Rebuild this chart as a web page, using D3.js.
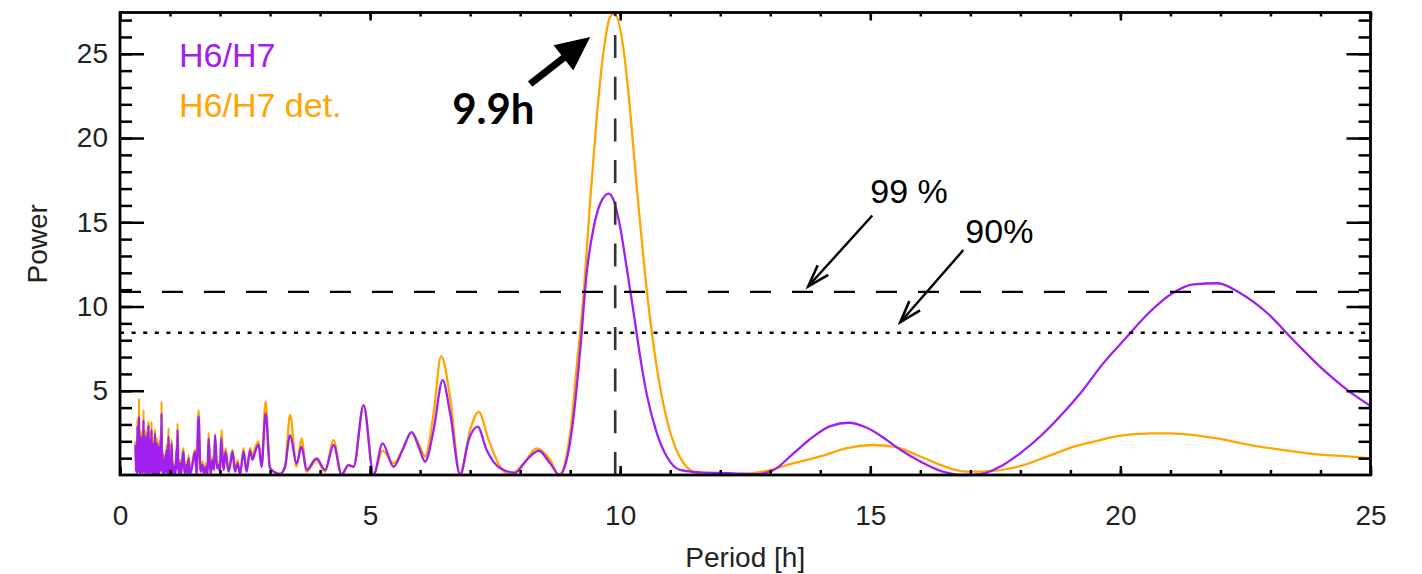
<!DOCTYPE html>
<html>
<head>
<meta charset="utf-8">
<script src="https://cdn.jsdelivr.net/npm/d3@7"></script>
<style>
  body { margin:0; background:#fff; }
  svg { display:block; }
</style>
</head>
<body>
<svg id="chart" width="1422" height="574"></svg>
<script>
// Periodogram values: [period (h), power]
const h6h7 = [
  [0.31,1.8],[0.32,0.2],[0.33,1.4],[0.34,0.1],[0.35,2.9],[0.36,0.3],[0.37,1.9],[0.375,0.2],[0.38,3.46],
  [0.39,0.1],[0.40,1.6],[0.41,0.1],[0.42,2.27],[0.43,0.2],[0.44,1.5],[0.455,0.1],[0.47,3.26],[0.48,0.2],
  [0.49,1.7],[0.50,0.1],[0.51,2.27],[0.52,0.2],[0.53,1.4],[0.54,0.05],[0.55,2.5],[0.56,0.3],[0.57,2.96],
  [0.58,0.1],[0.59,1.6],[0.60,0.1],[0.61,2.1],[0.62,0.2],[0.63,2.67],[0.64,0.1],[0.65,1.5],[0.66,0.1],
  [0.67,1.88],[0.68,0.05],[0.69,1.2],[0.695,0.1],[0.70,2.47],[0.71,0.1],[0.72,1.3],[0.73,0.1],
  [0.74,1.9],[0.75,0.05],[0.76,1.1],[0.765,0.1],[0.77,1.68],[0.78,0.1],[0.79,1.3],[0.80,0.2],
  [0.81,2.1],[0.82,0.3],[0.83,3.66],[0.84,0.2],[0.85,1.3],[0.86,0.1],[0.87,0.89],[0.89,0.05],
  [0.91,1.2],[0.92,0.2],[0.93,1.48],[0.95,0.05],[0.97,2.27],[0.98,0.1],[0.99,1.0],[1.00,0.1],
  [1.01,0.9],[1.02,0.05],[1.03,1.88],[1.05,0.1],[1.06,0.6],[1.08,0.1],[1.09,0.5],[1.11,0.05],
  [1.13,1.5],[1.14,0.4],[1.15,2.67],[1.17,0.1],[1.20,0.7],[1.22,0.05],[1.25,1.0],[1.27,1.38],
  [1.29,0.1],[1.33,0.6],[1.35,0.05],[1.37,0.99],[1.40,0.1],[1.42,0.2],[1.46,0.8],[1.50,1.38],
  [1.53,0.05],[1.57,3.46],[1.61,0.2],[1.65,0.6],[1.68,0.05],[1.72,0.5],[1.75,0.05],[1.77,2.17],
  [1.81,0.05],[1.85,0.9],[1.88,0.3],[1.90,2.37],[1.94,0.4],[1.97,0.6],[2.00,0.2],[2.02,2.17],
  [2.07,0.3],[2.11,1.38],[2.17,0.2],[2.21,0.7],[2.25,1.38],[2.30,0.2],[2.35,0.69],[2.40,0.05],
  [2.47,1.38],[2.53,0.2],[2.60,1.45],[2.65,0.9],[2.70,1.35],[2.77,1.8],[2.83,0.49],[2.91,3.66],
  [3.00,0.4],[3.20,0.06],[3.30,0.5],[3.40,2.37],[3.53,0.69],[3.63,1.68],[3.73,0.3],
  [3.93,0.99],[4.10,0.3],[4.27,1.78],[4.43,0.02],[4.57,0.59],[4.67,0.49],[4.87,4.15],[5.07,0.02],
  [5.25,1.88],[5.47,0.49],[5.65,1.5],[5.83,2.55],[5.98,1.6],[6.10,0.8],[6.27,2.67],[6.45,5.63],
  [6.60,3.66],[6.80,0.02],[6.97,2.07],[7.15,2.87],[7.33,1.48],[7.60,0.4],[7.90,0.14],[8.13,0.89],
  [8.37,1.44],[8.60,0.69],[8.79,0.0],[8.93,0.9],[9.07,3.5],[9.20,7.4],[9.33,12.0],[9.47,14.7],
  [9.60,16.1],[9.77,16.7],[9.87,16.3],[10.00,14.7],[10.13,12.3],[10.27,9.6],[10.40,7.0],[10.53,4.8],
  [10.73,2.5],[10.93,1.1],[11.20,0.3],[11.60,0.15],[12.27,0.1],[12.73,0.05],[13.07,0.3],[13.47,1.3],
  [13.87,2.3],[14.20,2.9],[14.57,3.1],[14.93,2.8],[15.27,2.2],[15.60,1.5],[16.00,0.8],[16.40,0.25],
  [16.87,0.0],[17.20,0.05],[17.60,0.5],[18.00,1.3],[18.40,2.3],[18.80,3.5],[19.20,4.85],[19.66,6.64],
  [20.10,8.1],[20.56,9.6],[21.04,10.79],[21.46,11.32],[21.94,11.38],[22.40,10.79],[22.94,9.6],
  [23.46,8.0],[24.00,6.4],[24.54,5.04],[25.00,4.1]
];

const h6h7det = [
  [0.31,2.0],[0.32,0.2],[0.33,1.6],[0.34,0.1],[0.35,3.3],[0.36,0.3],[0.37,2.2],[0.375,0.2],[0.38,4.55],
  [0.39,0.1],[0.40,1.9],[0.41,0.1],[0.42,2.6],[0.43,0.2],[0.44,1.8],[0.455,0.1],[0.47,3.85],[0.48,0.2],
  [0.49,2.0],[0.50,0.1],[0.51,2.6],[0.52,0.2],[0.53,1.7],[0.54,0.05],[0.55,2.8],[0.56,0.3],[0.57,3.2],
  [0.58,0.1],[0.59,1.9],[0.60,0.1],[0.61,2.5],[0.62,0.2],[0.63,3.16],[0.64,0.1],[0.65,1.8],[0.66,0.1],
  [0.67,2.2],[0.68,0.05],[0.69,1.4],[0.695,0.1],[0.70,2.7],[0.71,0.1],[0.72,1.5],[0.73,0.1],
  [0.74,2.2],[0.75,0.05],[0.76,1.3],[0.765,0.1],[0.77,1.9],[0.78,0.1],[0.79,1.5],[0.80,0.2],
  [0.81,2.4],[0.82,0.3],[0.83,4.35],[0.84,0.2],[0.85,1.5],[0.86,0.1],[0.87,1.1],[0.89,0.05],
  [0.91,1.4],[0.92,0.2],[0.93,1.8],[0.95,0.05],[0.97,2.77],[0.98,0.1],[0.99,1.2],[1.00,0.1],
  [1.01,1.1],[1.02,0.05],[1.03,2.1],[1.05,0.1],[1.06,0.8],[1.08,0.1],[1.09,0.7],[1.11,0.05],
  [1.13,1.8],[1.14,0.5],[1.15,3.06],[1.17,0.1],[1.20,0.9],[1.22,0.05],[1.25,1.3],[1.27,1.6],
  [1.29,0.1],[1.33,0.8],[1.35,0.05],[1.37,1.2],[1.40,0.1],[1.42,0.3],[1.46,1.0],[1.50,1.5],
  [1.53,0.05],[1.57,3.85],[1.61,0.2],[1.65,0.8],[1.68,0.05],[1.72,0.7],[1.75,0.05],[1.77,2.5],
  [1.81,0.05],[1.85,1.1],[1.88,0.3],[1.90,2.4],[1.94,0.4],[1.97,0.8],[2.00,0.2],[2.03,2.67],
  [2.07,0.3],[2.11,1.6],[2.17,0.2],[2.21,0.9],[2.25,1.5],[2.30,0.2],[2.35,0.9],[2.40,0.05],
  [2.47,1.6],[2.53,0.2],[2.60,1.6],[2.65,1.1],[2.70,1.6],[2.77,2.0],[2.83,0.5],[2.91,4.35],
  [3.00,0.4],[3.20,0.06],[3.30,0.5],[3.40,3.56],[3.53,0.5],[3.63,2.17],[3.73,0.2],
  [3.93,0.89],[4.10,0.2],[4.27,2.07],[4.43,0.02],[4.57,0.59],[4.67,0.49],[4.87,4.15],[5.07,0.02],
  [5.25,1.45],[5.47,0.69],[5.65,1.5],[5.83,2.55],[5.98,1.8],[6.10,1.1],[6.27,3.66],[6.42,7.05],
  [6.60,4.6],[6.80,0.02],[7.00,2.67],[7.17,3.75],[7.37,2.07],[7.60,0.5],[7.80,0.0],[8.07,0.69],
  [8.33,1.58],[8.60,0.89],[8.77,0.0],[9.00,2.5],[9.13,6.4],[9.27,10.8],[9.40,16.3],[9.53,21.2],
  [9.67,25.2],[9.80,27.2],[9.88,27.4],[10.07,25.2],[10.20,21.6],[10.33,17.1],[10.47,12.7],[10.60,9.2],
  [10.73,6.4],[10.90,3.7],[11.07,1.9],[11.27,0.7],[11.60,0.05],[12.27,0.04],[12.93,0.25],[13.47,0.7],
  [14.00,1.1],[14.53,1.6],[15.07,1.78],[15.47,1.68],[15.93,1.19],[16.40,0.6],[16.93,0.2],[17.47,0.25],
  [18.00,0.53],[18.53,1.09],[19.07,1.68],[19.60,2.07],[19.93,2.31],[20.60,2.47],[21.00,2.47],
  [21.47,2.37],[21.93,2.17],[22.60,1.78],[23.27,1.48],[23.93,1.23],[24.60,1.09],[25.00,0.99]
];

const xTicks = [0, 5, 10, 15, 20, 25];
const yTicks = [5, 10, 15, 20, 25];
const peakPeriod = 9.9;
const level99 = 10.87;
const level90 = 8.44;

// annotations, in data units: [from, to]
const bigArrow = [[8.2, 23.2], [9.4, 26.0]];
const arrow99 = [[15.04, 15.4], [13.76, 11.2]];
const arrow90 = [[16.86, 13.35], [15.6, 9.07]];

const purple = "#a020f0";
const orange = "#ffa500";
const font = '"Liberation Sans", Arial, Helvetica, sans-serif';

const svg = d3.select("#chart");
const mLeft = 120, mRight = 1370.5, mTop = 12.5, mBottom = 475;

const x = d3.scaleLinear().domain([0, 25]).range([mLeft, mRight]);
const y = d3.scaleLinear().domain([0, 27.45]).range([mBottom, mTop]);

const line = d3.line()
  .x(d => x(d[0]))
  .y(d => y(d[1]))
  .curve(d3.curveMonotoneX);

svg.append("path")
  .attr("d", line(h6h7det))
  .attr("fill", "none")
  .attr("stroke", orange)
  .attr("stroke-width", 2.3);

svg.append("path")
  .attr("d", line(h6h7))
  .attr("fill", "none")
  .attr("stroke", purple)
  .attr("stroke-width", 2.3);

// confidence levels
svg.append("line")
  .attr("x1", x(0)).attr("x2", x(25))
  .attr("y1", y(level99)).attr("y2", y(level99))
  .attr("stroke", "#000").attr("stroke-width", 2.4)
  .attr("stroke-dasharray", "21,21");

svg.append("line")
  .attr("x1", x(0)).attr("x2", x(25))
  .attr("y1", y(level90)).attr("y2", y(level90))
  .attr("stroke", "#000").attr("stroke-width", 2.4)
  .attr("stroke-dasharray", "4,7.6");

// peak marker
svg.append("line")
  .attr("x1", x(peakPeriod)).attr("x2", x(peakPeriod))
  .attr("y1", y(0)).attr("y2", y(27.45))
  .attr("stroke", "#333").attr("stroke-width", 2.6)
  .attr("stroke-dasharray", "23,18.7");

// axes
function styleAxis(g, size) {
  g.select(".domain").remove();
  g.selectAll(".tick line").attr("stroke", "#000").attr("stroke-width", 2.5);
  g.selectAll("text").attr("fill", "#222").style("font-family", font).style("font-size", size + "px");
}

const xMinor = d3.range(0, 26);
const yMinor = d3.range(1, 28);

svg.append("g").attr("transform", `translate(0,${mBottom})`)
  .call(d3.axisBottom(x).tickValues(xMinor).tickSize(-5).tickFormat(""))
  .call(styleAxis, 28);
svg.append("g").attr("transform", `translate(0,${mBottom})`)
  .call(d3.axisBottom(x).tickValues(xTicks).tickSize(-9).tickPadding(30).tickFormat(d3.format("d")))
  .call(styleAxis, 28);
svg.append("g").attr("transform", `translate(0,${mTop})`)
  .call(d3.axisTop(x).tickValues(xMinor).tickSize(-4).tickFormat(""))
  .call(styleAxis, 28);
svg.append("g").attr("transform", `translate(0,${mTop})`)
  .call(d3.axisTop(x).tickValues(xTicks).tickSize(-8).tickFormat(""))
  .call(styleAxis, 28);

svg.append("g").attr("transform", `translate(${mLeft},0)`)
  .call(d3.axisLeft(y).tickValues(yMinor).tickSize(-12).tickFormat(""))
  .call(styleAxis, 28);
svg.append("g").attr("transform", `translate(${mLeft},0)`)
  .call(d3.axisLeft(y).tickValues(yTicks).tickSize(-24).tickPadding(12).tickFormat(d3.format("d")))
  .call(styleAxis, 28);
svg.append("g").attr("transform", `translate(${mRight},0)`)
  .call(d3.axisRight(y).tickValues(yMinor).tickSize(-12).tickFormat(""))
  .call(styleAxis, 28);
svg.append("g").attr("transform", `translate(${mRight},0)`)
  .call(d3.axisRight(y).tickValues(yTicks).tickSize(-24).tickFormat(""))
  .call(styleAxis, 28);

svg.append("rect")
  .attr("x", mLeft).attr("y", mTop)
  .attr("width", mRight - mLeft).attr("height", mBottom - mTop)
  .attr("fill", "none").attr("stroke", "#000").attr("stroke-width", 2.8);

// axis titles
svg.append("text")
  .attr("x", (mLeft + mRight) / 2).attr("y", 567)
  .attr("text-anchor", "middle")
  .style("font-family", font).style("font-size", "28px").attr("fill", "#222")
  .text("Period [h]");

svg.append("text")
  .attr("transform", `translate(47,${(mTop + mBottom) / 2}) rotate(-90)`)
  .attr("text-anchor", "middle")
  .style("font-family", font).style("font-size", "28px").attr("fill", "#222")
  .text("Power");

// legend
svg.append("text").attr("x", 179).attr("y", 67)
  .style("font-family", font).style("font-size", "34px").attr("fill", purple)
  .text("H6/H7");
svg.append("text").attr("x", 179).attr("y", 117)
  .style("font-family", font).style("font-size", "34px").attr("fill", orange)
  .text("H6/H7 det.");

// arrows
function arrowGeom(a) {
  const x0 = x(a[0][0]), y0 = y(a[0][1]), x1 = x(a[1][0]), y1 = y(a[1][1]);
  const len = Math.hypot(x1 - x0, y1 - y0);
  return { x0, y0, x1, y1, ux: (x1 - x0) / len, uy: (y1 - y0) / len };
}

(function drawBigArrow() {
  const g = arrowGeom(bigArrow);
  const headLen = 34, headHalf = 16;
  const bx = g.x1 - g.ux * headLen, by = g.y1 - g.uy * headLen;
  svg.append("line")
    .attr("x1", g.x0).attr("y1", g.y0)
    .attr("x2", bx + g.ux * 2).attr("y2", by + g.uy * 2)
    .attr("stroke", "#000").attr("stroke-width", 7);
  svg.append("path")
    .attr("d", `M${g.x1},${g.y1}L${bx - g.uy * headHalf},${by + g.ux * headHalf}L${bx + g.uy * headHalf},${by - g.ux * headHalf}Z`)
    .attr("fill", "#000");
})();

[arrow99, arrow90].forEach(a => {
  const g = arrowGeom(a);
  const hl = 23, ang = 18 * Math.PI / 180;
  const back = Math.atan2(-g.uy, -g.ux);
  const p1 = [g.x1 + hl * Math.cos(back + ang), g.y1 + hl * Math.sin(back + ang)];
  const p2 = [g.x1 + hl * Math.cos(back - ang), g.y1 + hl * Math.sin(back - ang)];
  svg.append("line")
    .attr("x1", g.x0).attr("y1", g.y0).attr("x2", g.x1).attr("y2", g.y1)
    .attr("stroke", "#000").attr("stroke-width", 2.4);
  svg.append("path")
    .attr("d", `M${p1[0]},${p1[1]}L${g.x1},${g.y1}L${p2[0]},${p2[1]}`)
    .attr("fill", "none").attr("stroke", "#000").attr("stroke-width", 2.6);
});

svg.append("text")
  .attr("x", x(6.64)).attr("y", y(20.85))
  .style("font-family", "Lato, 'DejaVu Sans', sans-serif").style("font-size", "42px")
  .style("font-weight", "700").attr("fill", "#000")
  .text("9.9h");

svg.append("text")
  .attr("x", x(15.0)).attr("y", y(16.12))
  .style("font-family", font).style("font-size", "34px").attr("fill", "#000")
  .text("99 %");

svg.append("text")
  .attr("x", x(16.9)).attr("y", y(13.75))
  .style("font-family", font).style("font-size", "34px").attr("fill", "#000")
  .text("90%");
</script>
</body>
</html>
